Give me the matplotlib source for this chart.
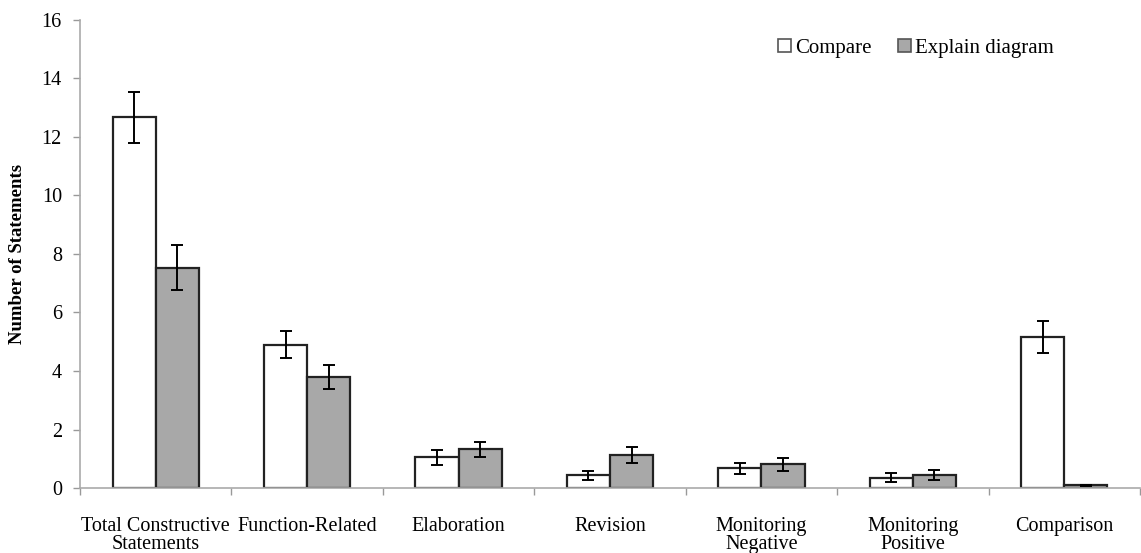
import matplotlib
matplotlib.use("Agg")
import matplotlib.pyplot as plt
import numpy as np
from matplotlib.patches import Patch

categories = ["Total Constructive\nStatements", "Function-Related", "Elaboration",
              "Revision", "Monitoring\nNegative", "Monitoring\nPositive", "Comparison"]
compare_means = [12.67, 4.90, 1.05, 0.43, 0.67, 0.35, 5.15]
compare_err = [0.88, 0.45, 0.26, 0.15, 0.20, 0.16, 0.55]
explain_means = [7.53, 3.80, 1.32, 1.13, 0.81, 0.43, 0.10]
explain_err = [0.76, 0.40, 0.27, 0.26, 0.22, 0.17, 0.02]
yticks = [0, 2, 4, 6, 8, 10, 12, 14, 16]

plt.rcParams['font.family'] = ['Liberation Serif', 'DejaVu Serif']

fig = plt.figure(figsize=(11.41, 5.53), dpi=100)
ax = fig.add_axes([0.0701, 0.1175, 0.929, 0.8465])

x = np.arange(len(categories))
w = 0.285
err_kw = dict(ecolor='black', elinewidth=1.4, capsize=4.5, capthick=1.4)
ax.bar(x - w / 2, compare_means, w, yerr=compare_err, color='white',
       edgecolor='#222222', linewidth=1.6, error_kw=err_kw, label='Compare')
ax.bar(x + w / 2, explain_means, w, yerr=explain_err, color='#a8a8a8',
       edgecolor='#222222', linewidth=1.6, error_kw=err_kw, label='Explain diagram')

ax.set_xlim(-0.5, len(categories) - 0.5)
ax.set_ylim(0, 16)
ax.set_yticks(yticks)
ax.set_yticklabels([str(t) for t in yticks], fontsize=14.5)

ax.set_xticks(x)
ax.set_xticklabels(categories, fontsize=14.5, linespacing=0.95)
ax.set_xticks(np.arange(len(categories) + 1) - 0.5, minor=True)
ax.tick_params(axis='x', which='major', length=0, pad=21)
ax.tick_params(axis='x', which='minor', length=5, color='#999999', width=1)
ax.tick_params(axis='y', length=5, color='#999999', width=1, pad=8)

for s in ['top', 'right']:
    ax.spines[s].set_visible(False)
for s in ['left', 'bottom']:
    ax.spines[s].set_color('#aaaaaa')
    ax.spines[s].set_linewidth(1.2)

ax.set_ylabel('Number of Statements', fontsize=13.5, fontweight='bold', labelpad=11)

handles = [Patch(facecolor='white', edgecolor='#555555', linewidth=1.2, label='Compare'),
           Patch(facecolor='#a8a8a8', edgecolor='#555555', linewidth=1.2, label='Explain diagram')]
ax.legend(handles=handles, loc='upper left', bbox_to_anchor=(0.641, 1.0), ncol=2,
          frameon=False, fontsize=15, handlelength=0.6, handleheight=0.6,
          handletextpad=0.2, columnspacing=1.3)

fig.savefig('out.png', dpi=100)
